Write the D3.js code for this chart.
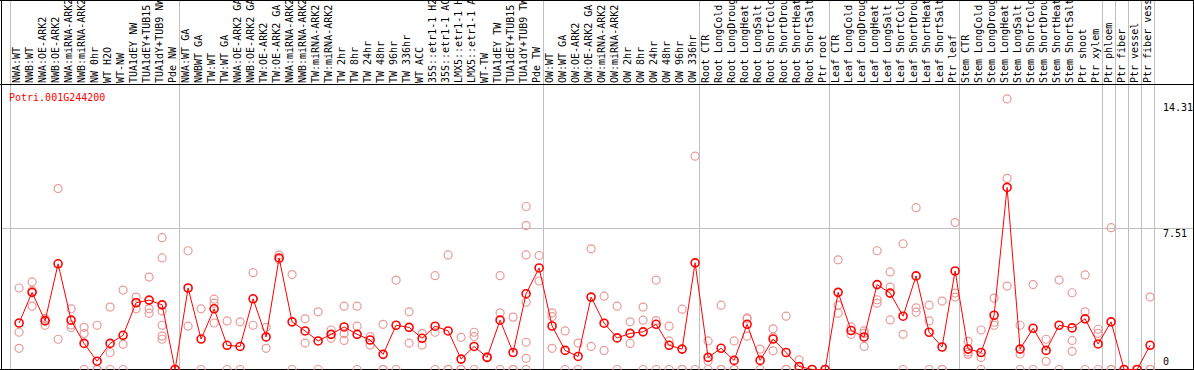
<!DOCTYPE html>
<html><head><meta charset="utf-8">
<script src="https://cdn.jsdelivr.net/npm/d3@7"></script>
<style>
body{margin:0;background:#fff}
svg{display:block}
text{font-family:"DejaVu Sans Mono",monospace;font-size:10px}
</style>
</head><body><svg id="c" width="1194" height="370"></svg>
<script>
const categories = [
"NWA:WT","NWB:WT","NWA:OE-ARK2","NWB:OE-ARK2","NWA:miRNA-ARK2","NWB:miRNA-ARK2","NW 0hr","WT H2O","WT-NW","TUA1dEY NW","TUA1dEY+TUB15 NW","TUA1dY+TUB9 NW","Pde NW",
"NWA:WT GA","NWBWT GA","TW:WT","TW:WT GA","NWA:OE-ARK2 GA","NWB:OE-ARK2 GA","TW:OE-ARK2","TW:OE-ARK2 GA","NWA:miRNA-ARK2","NWB:miRNA-ARK2","TW:miRNA-ARK2","TW:miRNA-ARK2","TW 2hr","TW 8hr","TW 24hr","TW 48hr","TW 96hr","TW 336hr","WT ACC","35S::etr1-1 H2O","35S::etr1-1 ACC","LMX5::etr1-1 H2O","LMX5::etr1-1 ACC","WT-TW","TUA1dEY TW","TUA1dEY+TUB15 TW","TUA1dY+TUB9 TW","Pde TW",
"OW:WT","OW:WT GA","OW:OE-ARK2","OW:OE-ARK2 GA","OW:miRNA-ARK2","OW:miRNA-ARK2","OW 2hr","OW 8hr","OW 24hr","OW 48hr","OW 96hr","OW 336hr",
"Root CTR","Root LongCold","Root LongDrought","Root LongHeat","Root LongSalt","Root ShortCold","Root ShortDrought","Root ShortHeat","Root ShortSalt","Ptr root",
"Leaf CTR","Leaf LongCold","Leaf LongDrought","Leaf LongHeat","Leaf LongSalt","Leaf ShortCold","Leaf ShortDrought","Leaf ShortHeat","Leaf ShortSalt","Ptr leaf",
"Stem CTR","Stem LongCold","Stem LongDrought","Stem LongHeat","Stem LongSalt","Stem ShortCold","Stem ShortDrought","Stem ShortHeat","Stem ShortSalt","Ptr shoot","Ptr xylem",
"Ptr phloem","Ptr fiber","Ptr vessel","Ptr fiber vessel"
];
// index of the first sample of each sample group
const groupStarts = [0, 13, 41, 53, 63, 73, 84, 85, 86, 87];

const means = [
2.46, 4.08, 2.57, 5.59, 2.61, 1.38, 0.44, 1.38, 1.81, 3.53,
3.67, 3.42, 0, 4.31, 1.61, 3.21, 1.28, 1.22, 3.74, 1.72,
5.90, 2.52, 2.04, 1.51, 1.86, 2.25, 1.86, 1.56, 0.80, 2.34,
2.23, 1.65, 2.29, 2.04, 0.55, 1.22, 0.64, 2.61, 0.90, 4.01,
5.37, 2.30, 1.01, 0.69, 3.83, 2.45, 1.67, 1.91, 1.99, 2.39,
1.28, 1.08, 5.64, 0.64, 1.12, 0.48, 2.39, 0.48, 1.61, 0.90,
0.16, 0, 0, 4.08, 2.06, 1.72, 4.49, 4.04, 2.82, 4.95,
1.97, 1.19, 5.21, 1.08, 0.90, 2.87, 9.63, 1.08, 2.18, 1.01,
2.34, 2.20, 2.68, 1.35, 2.52, 0, 0, 1.28
];

const replicates = [
[4.31,1.97,1.12],[4.63,4.17,3.35],[2.70,2.34,2.62],[9.57,1.60],[3.21,2.22,2.36],
[2.23,1.90,0],[2.34,0,0],[3.30,0.90,0],[4.20,1.33,0],[3.83,3.21,3.55],
[4.89,3.21,2.98],[6.97,5.90,3.09,2.34,1.77,1.60],[0,0],[6.28,2.29],[3.21,0],
[3.72,3.51,2.46],[2.57,0],[2.52,0],[5.12,2.34],[2.23,1.12],
[6.05,5.82],[5.02,0],[2.68,1.40],[3.05,0],[2.09,1.65],
[3.35,1.90,1.54],[3.35,2.29,0],[1.74,1.29],[2.39,0,0],[4.73,0],
[3.05,1.40],[1.90,1.29],[4.96,1.97,0],[6.06,0,0],[1.70,0,0],
[1.97,1.74,0],[0.67,0.62],[4.96,3.00,0],[2.77,0,0],[8.62,7.61,6.06,3.56,1.44,0.59,0],
[6.03,4.68],[3.00,2.80,1.12],[2.04,0],[1.40,0],[6.38,1.22],
[3.88,1.01],[3.35,0],[2.52,1.38],[3.30,2.61,0],[4.73,2.59,0],
[2.29,1.51,0],[3.19,0,0],[11.28,0],[1.51,0.43,0],[3.40,0,0],
[1.51,0,0],[2.68,1.76,2.73],[1.08,0],[2.15,1.72,0.99],[2.82,0,0],
[0.51,0,0],[0,0],[0,0],[5.80,3.40,2.98],[2.25,1.86],
[2.04,1.91,1.22],[6.28,3.69,3.51],[5.16,4.36,2.62],[6.65,1.86,0],[8.56,3.26,3.03],
[3.40,2.57,0],[3.62,0,0],[7.77,4.04,3.83],[1.49,0.92,0.80],[2.09,0.64,0],
[3.78,2.50,2.34],[14.31,10.11,4.41],[2.34,0.82,0],[4.49,0],[1.60,0.43],
[4.73,0],[4.06,1.54,0.96],[5.00,3.05,0],[2.13,1.91,0],[7.50,0,0],
[0,0],[0,0],[3.83,0,0]
];

const gridValues = [7.51];
const axisLabels = [14.31, 7.51, 0];
const geneId = "Potri.001G244200";
const yMax = 15.02;

const W = 1194, H = 370;
const svg = d3.select("#c");
const x = d3.scaleBand().domain(d3.range(categories.length)).range([10.5, 1154.5]);
const y = d3.scaleLinear().domain([0, yMax]).range([369.5, 85.5]);
const px = i => x(i) + 8.6;

const grey = "#c0c0c0";

// clip for header labels
svg.append("defs").append("clipPath").attr("id","hdr")
  .append("rect").attr("x",0).attr("y",1).attr("width",W).attr("height",83);

// vertical group separators
const seps = groupStarts.map(i => x(i)).concat([x.range()[1]]);
svg.append("g").selectAll("line").data(seps).join("line")
  .attr("x1", d => d).attr("x2", d => d).attr("y1", 0).attr("y2", 369)
  .attr("stroke", grey).attr("stroke-width", 1);

// horizontal grid
svg.append("g").selectAll("line").data(gridValues).join("line")
  .attr("x1", 1).attr("x2", W).attr("y1", d => Math.round(y(d)) + 0.5).attr("y2", d => Math.round(y(d)) + 0.5)
  .attr("stroke", grey).attr("stroke-width", 1);

// borders
const k = "#000";
svg.append("line").attr("x1",0).attr("x2",W).attr("y1",0.5).attr("y2",0.5).attr("stroke",k);
svg.append("line").attr("x1",0).attr("x2",W).attr("y1",84.5).attr("y2",84.5).attr("stroke",k);
svg.append("line").attr("x1",0).attr("x2",W).attr("y1",369.5).attr("y2",369.5).attr("stroke",k);
svg.append("line").attr("x1",1.5).attr("x2",1.5).attr("y1",0).attr("y2",370).attr("stroke",k);
svg.append("line").attr("x1",1193.5).attr("x2",1193.5).attr("y1",0).attr("y2",370).attr("stroke",k);

// header labels
svg.append("g").attr("clip-path","url(#hdr)").selectAll("text").data(categories).join("text")
  .attr("transform", (d,i) => `translate(${px(i)+1},83) rotate(-90)`)
  .attr("fill", "#000")
  .text(d => d);

// axis labels
svg.append("g").selectAll("text").data(axisLabels).join("text")
  .attr("x", 1163)
  .attr("y", d => d === 0 ? y(d) - 4.5 : (d === d3.max(axisLabels) ? y(d) + 12 : y(d) + 9.5))
  .attr("fill", "#000")
  .text(d => d);

// title
svg.append("text").attr("x", 9).attr("y", 101).attr("fill", "#ff0000").text(geneId);

// replicate points
const repPts = replicates.flatMap((arr, i) => arr.map(v => ({i, v})));
svg.append("g").selectAll("circle").data(repPts).join("circle")
  .attr("cx", d => px(d.i)).attr("cy", d => y(d.v)).attr("r", 4)
  .attr("fill", "none").attr("stroke", "#e89a9a").attr("stroke-width", 1.2);

// mean line
svg.append("path").datum(means)
  .attr("d", d3.line().x((d,i) => px(i)).y(d => y(d)))
  .attr("fill", "none").attr("stroke", "#ff0000").attr("stroke-width", 1);

// mean points
svg.append("g").selectAll("circle").data(means).join("circle")
  .attr("cx", (d,i) => px(i)).attr("cy", d => y(d)).attr("r", 4)
  .attr("fill", "none").attr("stroke", "#ff0000").attr("stroke-width", 1.6);
</script>
</body></html>
